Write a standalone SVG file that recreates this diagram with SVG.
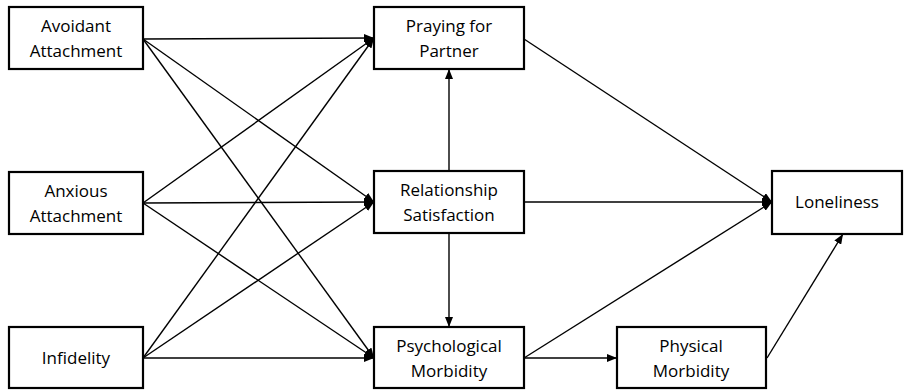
<svg xmlns="http://www.w3.org/2000/svg" width="905" height="390" viewBox="0 0 905 390">
<defs>
<marker id="ah" viewBox="0 0 10 8" refX="10" refY="4" markerWidth="10" markerHeight="8" markerUnits="userSpaceOnUse" orient="auto">
<path d="M0,0 L10,4 L0,8 z" fill="#000"/>
</marker>
<style>
.box{fill:#fff;stroke:#000;stroke-width:2.2}
.lbl{font-family:"Open Sans","Liberation Sans",sans-serif;font-size:17px;fill:#000;text-anchor:middle}
.c{fill:none;stroke:#000;stroke-width:1.4;marker-end:url(#ah)}
</style>
</defs>
<rect width="905" height="390" fill="#fff"/>
<g id="connectors">
<line class="c" x1="143" y1="39" x2="374" y2="38"/>
<line class="c" x1="143" y1="39" x2="374" y2="202"/>
<line class="c" x1="143" y1="39" x2="374" y2="358"/>
<line class="c" x1="143" y1="203" x2="374" y2="38"/>
<line class="c" x1="143" y1="203" x2="374" y2="202"/>
<line class="c" x1="143" y1="203" x2="374" y2="358"/>
<line class="c" x1="143" y1="358" x2="374" y2="38"/>
<line class="c" x1="143" y1="358" x2="374" y2="202"/>
<line class="c" x1="143" y1="358" x2="374" y2="358"/>
<line class="c" x1="449" y1="171" x2="449" y2="69"/>
<line class="c" x1="449" y1="233" x2="449" y2="327"/>
<line class="c" x1="524" y1="39" x2="772" y2="202"/>
<line class="c" x1="524" y1="202" x2="772" y2="202"/>
<line class="c" x1="524" y1="358" x2="772" y2="202"/>
<line class="c" x1="524" y1="358" x2="617" y2="358"/>
<line class="c" x1="767" y1="358" x2="843" y2="234"/>
</g>
<g id="avoidant">
<rect class="box" x="9" y="7" width="134" height="62"/>
<text class="lbl" x="76" y="32">Avoidant</text>
<text class="lbl" x="76" y="57">Attachment</text>
</g>
<g id="anxious">
<rect class="box" x="9" y="172" width="134" height="62"/>
<text class="lbl" x="76" y="197">Anxious</text>
<text class="lbl" x="76" y="222">Attachment</text>
</g>
<g id="infidelity">
<rect class="box" x="9" y="327" width="134" height="61"/>
<text class="lbl" x="76" y="364">Infidelity</text>
</g>
<g id="praying">
<rect class="box" x="374" y="7" width="150" height="62"/>
<text class="lbl" x="449" y="32">Praying for</text>
<text class="lbl" x="449" y="57">Partner</text>
</g>
<g id="relationship">
<rect class="box" x="374" y="171" width="150" height="62"/>
<text class="lbl" x="449" y="196">Relationship</text>
<text class="lbl" x="449" y="221">Satisfaction</text>
</g>
<g id="psychological">
<rect class="box" x="374" y="327" width="150" height="61"/>
<text class="lbl" x="449" y="352">Psychological</text>
<text class="lbl" x="449" y="377">Morbidity</text>
</g>
<g id="physical">
<rect class="box" x="617" y="327" width="149" height="61"/>
<text class="lbl" x="691" y="352">Physical</text>
<text class="lbl" x="691" y="377">Morbidity</text>
</g>
<g id="loneliness">
<rect class="box" x="772" y="171" width="130" height="63"/>
<text class="lbl" x="837" y="208">Loneliness</text>
</g>
</svg>
